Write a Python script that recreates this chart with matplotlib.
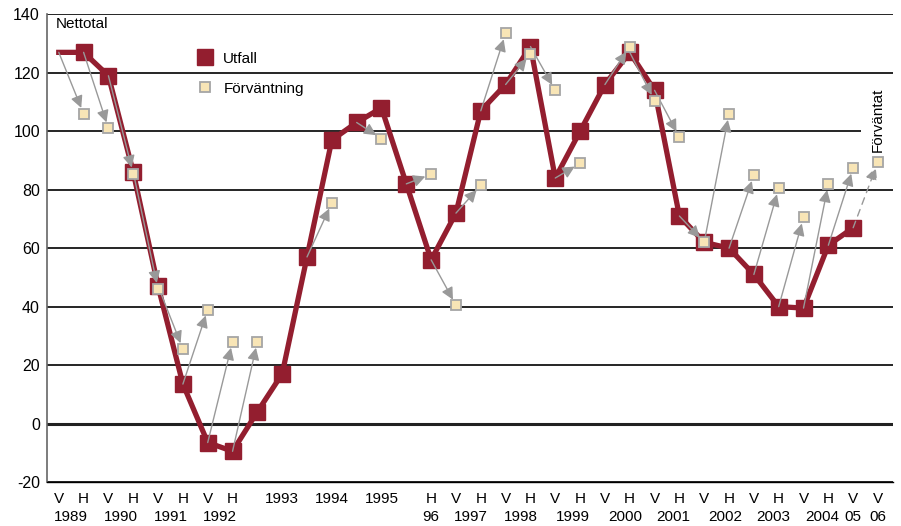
import matplotlib.pyplot as plt
from matplotlib.lines import Line2D
import matplotlib.transforms as mtransforms

plt.rcParams['font.family'] = ['Liberation Sans', 'DejaVu Sans']
plt.rcParams['axes.unicode_minus'] = False

# half-year periods, 1989 V .. 2006 V (2005 H is not in the chart)
top_labels = ['V', 'H', 'V', 'H', 'V', 'H', 'V', 'H',
              '', '1993', '', '1994', '', '1995', '', 'H',
              'V', 'H', 'V', 'H', 'V', 'H', 'V', 'H', 'V', 'H',
              'V', 'H', 'V', 'H', 'V', 'H', 'V', 'V']
year_labels = ['1989', '1990', '1991', '1992', '96', '1997', '1998', '1999',
               '2000', '2001', '2002', '2003', '2004', '05', '06']
year_pos = [0.5, 2.5, 4.5, 6.5, 15, 16.6, 18.6, 20.7, 22.8, 24.75, 26.85, 28.8, 30.75, 32, 33]

utfall = [127, 127, 119, 86, 47, 13.5, -6.5, -9.5, 4, 17, 57, 97, 103, 108, 82, 56,
          72, 107, 116, 129, 84, 100, 116, 127, 114, 71, 62, 60, 51, 40, 39.5, 61, 67, None]
forvantning = [None, 106, 101, 85.5, 46, 25.5, 39, 28, 28, None, None, 75.5, None, 97.5, None, 85.3,
               40.5, 81.5, 133.5, 126.5, 114, 89, None, 129, 110.5, 98, 62, 106, 85, 80.5, 70.5, 82,
               87.5, 89.5]

red = '#931e2f'
cream = '#f8e5b6'
edge = '#a5a5a5'
arrow_col = '#999999'
fs = 11

fig = plt.figure(figsize=(9.01, 5.26), dpi=100)
ax = fig.add_axes([0.052, 0.0837, 0.939, 0.889])

x = list(range(len(top_labels)))

# utfall line, first point without a marker
ux = [i for i, v in enumerate(utfall) if v is not None]
uy = [utfall[i] for i in ux]
ax.plot(ux, uy, color=red, lw=3.8, zorder=3, solid_joinstyle='miter')
ax.plot(ux[1:], uy[1:], ls='none', marker='s', ms=12.2, color=red, zorder=3)

# arrows from outcome to next expectation
for i in range(len(utfall) - 1):
    if utfall[i] is None or forvantning[i + 1] is None:
        continue
    dashed = i + 1 == len(utfall) - 1
    ax.annotate('', xy=(i + 1, forvantning[i + 1]), xytext=(i, utfall[i]),
                arrowprops=dict(arrowstyle='-|>', color=arrow_col, lw=1.0,
                                mutation_scale=18, shrinkA=0, shrinkB=4.5,
                                linestyle=(0, (5, 4)) if dashed else '-'),
                zorder=4)

fx = [i for i, v in enumerate(forvantning) if v is not None]
fy = [forvantning[i] for i in fx]
ax.plot(fx, fy, ls='none', marker='s', ms=7.8, mfc=cream, mec=edge, mew=1.3, zorder=5)

ax.set_ylim(-20, 140)
ax.set_xlim(-0.48, 33.6)
ax.set_yticks(range(-20, 141, 20))
ax.yaxis.grid(True, color='black', lw=1.2)
ax.axhline(0, color='#222222', lw=2.2, zorder=1)
ax.set_axisbelow(True)

for s in ['right', 'top']:
    ax.spines[s].set_visible(False)
ax.spines['left'].set_color('#666666')
ax.spines['left'].set_linewidth(1.2)
ax.spines['bottom'].set_linewidth(1.0)

ax.set_xticks(x)
ax.set_xticklabels(top_labels, fontsize=fs)
ax.tick_params(axis='x', length=0, pad=7)
ax.tick_params(axis='y', length=0, pad=5, labelsize=fs + 0.5)

trans = mtransforms.blended_transform_factory(ax.transData, ax.transAxes)
for lab, p in zip(year_labels, year_pos):
    ax.annotate(lab, xy=(p, 0), xycoords=trans, xytext=(0, -25),
                textcoords='offset points', ha='center', va='center', fontsize=fs)

ax.text(0.01, 0.995, 'Nettotal', transform=ax.transAxes, ha='left', va='top', fontsize=fs)
ax.text(33, 104, 'Förväntat', rotation=90, ha='center', va='center', fontsize=fs,
        bbox=dict(facecolor='white', edgecolor='none', pad=7), zorder=2)

handles = [Line2D([], [], ls='none', marker='s', ms=12.2, color=red),
           Line2D([], [], ls='none', marker='s', ms=7.8, mfc=cream, mec=edge, mew=1.3)]
ax.legend(handles, ['Utfall', 'Förväntning'], loc='upper left', bbox_to_anchor=(0.176, 0.92),
          frameon=False, fontsize=fs, borderpad=0, borderaxespad=0, handlelength=1.2,
          handletextpad=0.6, labelspacing=1.05)

fig.savefig('out.png', dpi=100)
